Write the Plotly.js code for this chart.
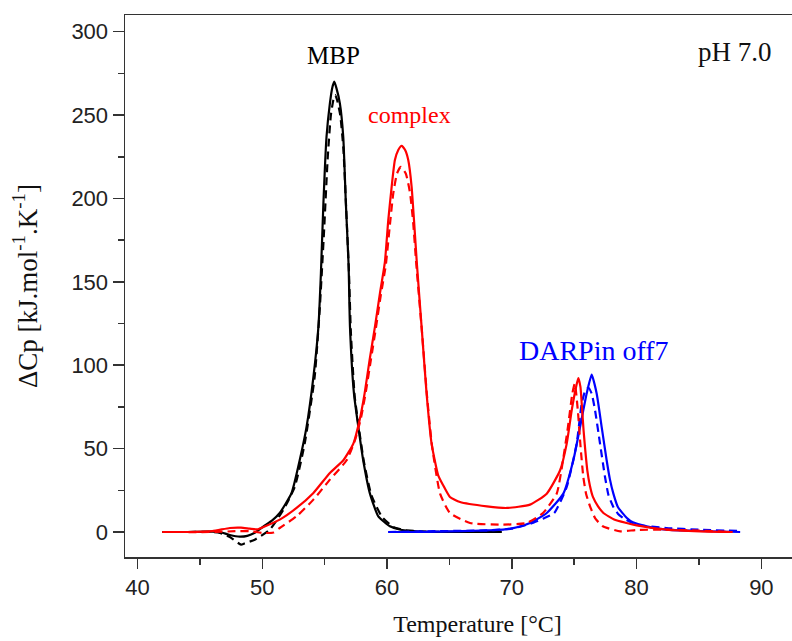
<!DOCTYPE html>
<html>
<head>
<meta charset="utf-8">
<script src="https://cdn.plot.ly/plotly-3.0.1.min.js"></script>
<style>
html, body { margin: 0; padding: 0; overflow: hidden; background: #fff; width: 792px; height: 641px; }
#chart { width: 830px; height: 641px; }
</style>
</head>
<body>
<div id="chart"></div>
<script>
// Temperature (°C) and ΔCp (kJ/mol/K) values
const mbpSolidT = [42, 44, 46, 46.6, 47.4, 48.2, 48.8, 49.4, 50.1, 50.8, 51.4, 52.35, 53.0, 53.55, 54.1, 54.5, 54.7, 54.9, 55.15, 55.42, 55.6, 55.77, 55.95, 56.22, 56.49, 56.7, 56.92, 57.03, 57.35, 57.7, 58.09, 58.63, 59.3, 60.23, 61, 62.4, 64, 66, 69.2];
const mbpSolidV = [0, 0, 0.2, 0, -1.8, -2.8, -2.3, -0.5, 3.4, 7, 11.4, 23.4, 43, 63, 93, 123, 155, 197, 237, 257, 266, 270, 266, 257, 237, 197, 160, 123, 83, 63, 43, 23, 9.4, 3.4, 1.5, 0.4, 0, 0, 0];

const mbpDashT = [42, 44, 46, 46.6, 47.4, 48.3, 48.6, 49.4, 50.6, 51.7, 52.6, 53.4, 54.2, 54.6, 54.95, 55.25, 55.5, 55.7, 55.85, 56.0, 56.25, 56.5, 56.72, 56.95, 57.1, 57.4, 57.75, 58.15, 58.75, 59.6, 60.5, 61.5, 63, 66, 69];
const mbpDashV = [0, 0, 0, -0.5, -3, -7.6, -6.8, -4.6, 1.4, 13.4, 27, 53, 93, 133, 180, 225, 250, 259, 262, 259, 250, 230, 195, 155, 120, 82, 62, 42, 22, 9, 3, 1, 0.3, 0, 0];

const cpxSolidT = [42, 44, 46, 47.4, 48.3, 49, 49.6, 50.1, 51.4, 52.75, 54.1, 55.42, 56.5, 57.3, 57.8, 58.2, 58.6, 59.03, 59.43, 59.83, 60.1, 60.37, 60.63, 60.9, 61.17, 61.45, 61.7, 61.97, 62.16, 62.4, 62.77, 63.17, 63.57, 64.1, 64.5, 65.04, 65.85, 68, 69.6, 71.46, 72.8, 73.87, 74.4, 74.8, 75.15, 75.33, 75.5, 75.62, 75.75, 75.9, 76.05, 76.25, 76.5, 76.9, 77.34, 78.2, 79.2, 80, 82.4, 85.1, 87.7];
const cpxSolidV = [0, 0, 0.5, 2.4, 2.6, 2, 1.6, 3, 7.4, 14.4, 23.4, 35.4, 43, 53, 67, 83, 103, 123, 143, 162, 187, 207, 223, 229, 231.6, 229, 223, 207, 187, 160, 123, 83, 53, 34, 28, 21, 18, 15.4, 14.4, 16.4, 23, 37, 53, 73, 87, 92.3, 87, 75, 61, 48, 37, 28, 21, 15.5, 11.4, 7.5, 5.4, 4, 1.4, 0.4, 0];

const cpxDashT = [42, 46, 48, 49, 50.07, 50.9, 51.4, 52.75, 54.1, 55.42, 56.76, 57.43, 57.9, 58.3, 58.7, 59.1, 59.5, 59.9, 60.2, 60.5, 60.8, 61.1, 61.5, 61.85, 62.1, 62.35, 62.8, 63.2, 63.6, 64.25, 65.04, 66.65, 69.3, 71.2, 72.5, 73.6, 74.1, 74.5, 74.85, 75.05, 75.3, 75.5, 75.73, 75.95, 76.27, 76.7, 77.3, 78.7, 80, 82, 85, 87.5];
const cpxDashV = [0, 0, 0.5, 0.5, -0.6, -0.3, 2.4, 9.4, 19.4, 31.4, 43, 55, 68, 84, 103, 122, 142, 160, 182, 203, 215, 219, 215, 203, 185, 160, 120, 82, 52, 23, 11.4, 5.4, 4.4, 5.4, 11.4, 23, 43, 63, 83, 89, 72, 52, 33, 23, 15.4, 8, 3.4, 0.4, 1.2, 1.4, 0.8, 0];

const darpSolidT = [60.1, 62, 64, 66, 68, 69.3, 70.5, 71.46, 72.8, 74.13, 74.93, 75.47, 76.0, 76.4, 76.8, 77.2, 77.6, 77.85, 78.14, 78.5, 79.2, 79.7, 80.8, 82.4, 85, 88.3];
const darpSolidV = [0, 0, 0.2, 0.5, 1, 1.4, 3, 5.4, 11.4, 23, 43, 63, 83, 94.3, 83, 63, 43, 32, 23, 15, 8.5, 5.8, 3.4, 1.4, 0.6, 0];

const darpDashT = [60.1, 64, 68, 70, 71.5, 72.5, 73.4, 74.4, 75.2, 75.6, 75.9, 76.14, 76.4, 76.67, 77.07, 77.47, 77.75, 78.14, 78.5, 79, 80, 82.4, 85, 88.3];
const darpDashV = [0, 0.5, 1, 2, 5, 8, 11.4, 27, 53, 77, 85, 86.5, 83, 73, 53, 33, 22, 15, 11, 8, 4.4, 2.4, 1.4, 0.6];

const xTicks = [40, 50, 60, 70, 80, 90];
const yTicks = [0, 50, 100, 150, 200, 250, 300];

const BLACK = '#000000', RED = '#ff0000', BLUE = '#0000ff';
const DASH = '8px,5px';

function tr(x, y, color, dash, name) {
  return {
    x: x, y: y, type: 'scatter', mode: 'lines', name: name,
    line: {color: color, width: 2.2, dash: dash, shape: 'spline', smoothing: 0.5},
    hoverinfo: 'skip', showlegend: false
  };
}

const data = [
  tr(mbpSolidT, mbpSolidV, BLACK, 'solid', 'MBP'),
  tr(mbpDashT, mbpDashV, BLACK, DASH, 'MBP fit'),
  tr(darpSolidT, darpSolidV, BLUE, 'solid', 'DARPin off7'),
  tr(darpDashT, darpDashV, BLUE, DASH, 'DARPin off7 fit'),
  tr(cpxSolidT, cpxSolidV, RED, 'solid', 'complex'),
  tr(cpxDashT, cpxDashV, RED, DASH, 'complex fit')
];

const serif = '"Liberation Serif", "Times New Roman", serif';
const sans = '"Liberation Sans", Arial, sans-serif';
const axColor = '#333333';

const layout = {
  width: 830, height: 641,
  margin: {l: 125, r: 0, t: 15, b: 84},
  paper_bgcolor: '#ffffff', plot_bgcolor: '#ffffff',
  showlegend: false,
  xaxis: {
    range: [39, 95.5], showgrid: false, zeroline: false,
    showline: true, linecolor: axColor, linewidth: 1.5, mirror: true,
    ticks: 'outside', ticklen: 10, tickwidth: 1.5, tickcolor: axColor,
    tickvals: xTicks, ticktext: xTicks.map(String),
    minor: {dtick: 5, tick0: 40, ticks: 'outside', ticklen: 6, tickwidth: 1.5, tickcolor: axColor},
    tickfont: {family: sans, size: 22, color: '#222'},
    title: {text: 'Temperature [°C]', font: {family: serif, size: 24, color: '#111'}, standoff: 16}
  },
  yaxis: {
    range: [-15, 310], showgrid: false, zeroline: false,
    showline: true, linecolor: axColor, linewidth: 1.5, mirror: true,
    ticks: 'outside', ticklen: 11, tickwidth: 1.5, tickcolor: axColor,
    tickvals: yTicks, ticktext: yTicks.map(String),
    minor: {dtick: 25, tick0: 0, ticks: 'outside', ticklen: 6, tickwidth: 1.5, tickcolor: axColor},
    tickfont: {family: sans, size: 22, color: '#222'},
    title: {text: 'ΔCp [kJ.mol<sup>-1</sup>.K<sup>-1</sup>]', font: {family: serif, size: 27, color: '#111'}, standoff: 26}
  },
  annotations: [
    {x: 55.74, y: 286, xref: 'x', yref: 'y', text: 'MBP', showarrow: false, font: {family: serif, size: 25, color: '#000'}},
    {x: 61.84, y: 250, xref: 'x', yref: 'y', text: 'complex', showarrow: false, font: {family: serif, size: 24, color: RED}},
    {x: 76.6, y: 109, xref: 'x', yref: 'y', text: 'DARPin off7', showarrow: false, font: {family: serif, size: 28, color: BLUE}},
    {x: 87.9, y: 288, xref: 'x', yref: 'y', text: 'pH 7.0', showarrow: false, font: {family: serif, size: 27, color: '#111'}}
  ]
};

Plotly.newPlot('chart', data, layout, {displayModeBar: false, staticPlot: true});
</script>
</body>
</html>
